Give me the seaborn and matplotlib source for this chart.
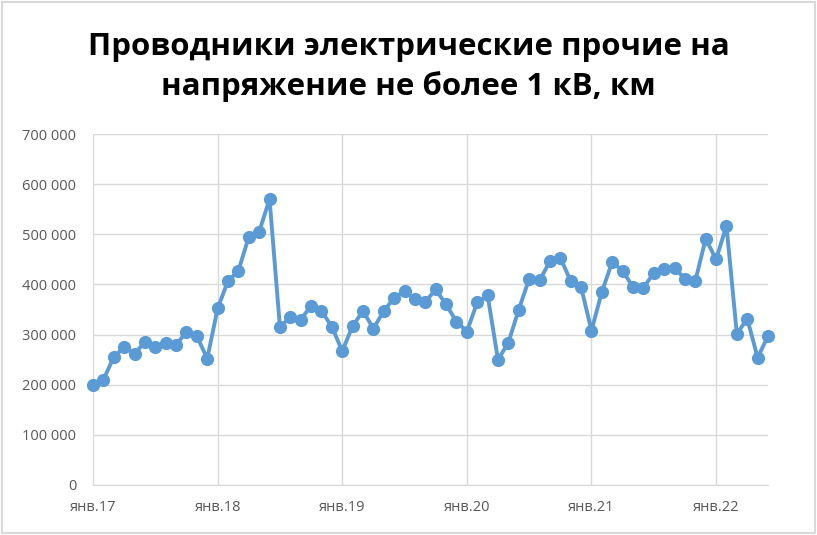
import matplotlib
matplotlib.use("Agg")
import matplotlib.pyplot as plt
import matplotlib.ticker as mticker
from matplotlib.patches import Rectangle
import seaborn as sns
import pandas as pd
import numpy as np

years = ["17", "18", "19", "20", "21", "22"]
tick_labels = ["янв." + y for y in years]
values = [
    200000, 210000, 255000, 275000, 262000, 285000, 275000, 283000, 280000, 305000, 297000, 252000,
    352000, 407000, 427000, 495000, 505000, 570000, 315000, 335000, 330000, 357000, 347000, 316000,
    267000, 317000, 347000, 312000, 347000, 373000, 387000, 370000, 365000, 390000, 360000, 326000,
    306000, 364000, 378000, 250000, 284000, 350000, 411000, 408000, 446000, 453000, 407000, 395000,
    308000, 385000, 445000, 427000, 395000, 393000, 423000, 431000, 433000, 411000, 407000, 491000,
    450000, 517000, 301000, 332000, 254000, 297000,
]
month_index = list(range(len(values)))
title = "Проводники электрические прочие на\nнапряжение не более 1 кВ, км"

df = pd.DataFrame({"month": month_index, "value": values})

sns.set_style("white")
plt.rcParams["font.family"] = ["Open Sans", "DejaVu Sans"]

fig = plt.figure(figsize=(8.17, 5.35), dpi=100)
ax = fig.add_axes([93 / 817, 1 - 485 / 535, (768 - 93) / 817, (485 - 134) / 535])

sns.lineplot(data=df, x="month", y="value", ax=ax, color="#5B9BD5", linewidth=2.8,
             marker="o", markersize=9.5, markeredgewidth=0, clip_on=False, zorder=3)

ax.set_xlim(0, len(values) - 1)
ax.set_ylim(0, 700000)
ax.set_xticks([12 * i for i in range(len(years))])
ax.set_xticklabels(tick_labels)
ax.set_yticks(np.arange(0, 700001, 100000))
ax.yaxis.set_major_formatter(mticker.FuncFormatter(lambda v, p: f"{int(v):,}".replace(",", " ")))
ax.set_xlabel("")
ax.set_ylabel("")

ax.grid(True, color="#D9D9D9", linewidth=1)
ax.set_axisbelow(True)
for s in ["top", "right", "left"]:
    ax.spines[s].set_visible(False)
ax.spines["bottom"].set_color("#D9D9D9")
ax.tick_params(axis="x", length=5, color="#D9D9D9", colors="#595959", labelsize=10.5, pad=6)
ax.tick_params(axis="y", length=0, colors="#595959", labelsize=10.5, pad=12)

fig.text(0.5, 1 - 67 / 535, title, ha="center", va="center", fontsize=22.5,
         fontweight="bold", color="black", linespacing=1.38)

fig.patches.append(Rectangle((0.002, 0.003), 0.996, 0.994, transform=fig.transFigure,
                             fill=False, edgecolor="#D9D9D9", linewidth=1.5))

fig.savefig("out.png", dpi=100)
